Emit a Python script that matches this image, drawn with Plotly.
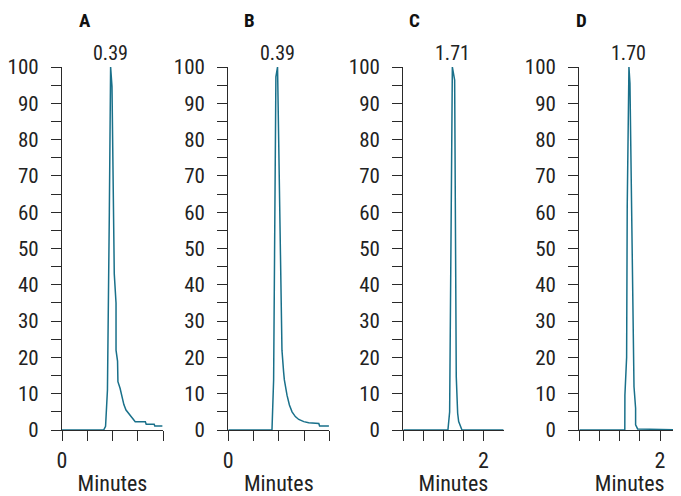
import plotly.graph_objects as go

# ---- data ----
panel_titles = ["A", "B", "C", "D"]
peak_labels = ["0.39", "0.39", "1.71", "1.70"]

a_time = [0.0, 0.33, 0.345, 0.36, 0.375, 0.385, 0.396, 0.405, 0.414, 0.428, 0.428, 0.44, 0.443,
          0.46, 0.475, 0.49, 0.507, 0.53, 0.555, 0.58, 0.66, 0.667, 0.73, 0.735, 0.795]
a_int = [0.0, 0.0, 1.0, 11.0, 60.0, 100.0, 94.6, 60.0, 43.0, 35.0, 22.0, 19.0, 13.3,
         11.5, 9.0, 7.0, 5.5, 4.4, 3.2, 2.3, 2.3, 1.6, 1.6, 1.1, 1.1]

b_time = [0.0, 0.346, 0.359, 0.367, 0.377, 0.39, 0.407, 0.412, 0.42, 0.425, 0.438, 0.444, 0.465,
          0.484, 0.505, 0.531, 0.558, 0.598, 0.637, 0.717, 0.723, 0.797]
b_int = [0.0, 0.0, 13.8, 60.0, 97.3, 100.0, 63.4, 40.4, 32.0, 22.0, 16.0, 13.8, 9.6,
         6.9, 5.0, 3.7, 2.9, 2.3, 2.0, 1.8, 1.1, 1.1]

c_time = [1.2, 1.645, 1.662, 1.672, 1.689, 1.712, 1.722, 1.728, 1.742, 1.752, 1.785, 2.2]
c_int = [0.0, 0.0, 5.0, 50.0, 100.0, 96.4, 54.0, 14.7, 4.6, 2.3, 0.0, 0.0]

d_time = [1.2, 1.651, 1.652, 1.669, 1.675, 1.692, 1.702, 1.729, 1.742, 1.758, 1.758, 1.778, 2.2]
d_int = [0.0, 0.0, 9.6, 20.0, 61.5, 100.0, 95.5, 45.0, 12.0, 6.0, 1.4, 0.3, 0.0]

x_ranges = [[0, 0.8], [0, 0.8], [1.2, 2.2], [1.2, 2.2]]
x_tickvals = [[0, 0.2, 0.4, 0.6, 0.8], [0, 0.2, 0.4, 0.6, 0.8],
              [1.2, 1.4, 1.6, 1.8, 2.0], [1.2, 1.4, 1.6, 1.8, 2.0]]
x_ticktext = [["0", "", "", "", ""], ["0", "", "", "", ""],
              ["", "", "", "", "2"], ["", "", "", "", "2"]]
y_tickvals = [0, 10, 20, 30, 40, 50, 60, 70, 80, 90, 100]
x_title = "Minutes"

series = [(a_time, a_int), (b_time, b_int), (c_time, c_int), (d_time, d_int)]

# ---- layout geometry (page pixels; the page body adds an 8px offset) ----
OFF = 8
W, H = 681 - OFF, 496 - OFF
x_dom_px = [(62, 163), (228.3, 329.3), (403.3, 503.6), (579.3, 680.2)]
y_top_px, y_bot_px = 67, 430
y_dom = [(H - (y_bot_px - OFF)) / H, (H - (y_top_px - OFF)) / H]
title_px = [85, 249, 414, 581]
title_py = 20

FONT = "Roboto Condensed, DejaVu Sans Condensed, sans-serif"
LINE_COL = "#19708a"
AX_COL = "#2a2a2a"
TXT_COL = "#222222"

fig = go.Figure()
layout = dict(
    width=W, height=H,
    margin=dict(l=0, r=0, t=0, b=0, autoexpand=False),
    paper_bgcolor="white", plot_bgcolor="white",
    showlegend=False,
    font=dict(family=FONT, color=TXT_COL, size=21),
)
annotations = []

for i, (t, v) in enumerate(series):
    n = i + 1
    xa = "x" if n == 1 else f"x{n}"
    ya = "y" if n == 1 else f"y{n}"
    fig.add_trace(go.Scatter(x=t, y=v, mode="lines", xaxis=xa, yaxis=ya,
                             line=dict(color=LINE_COL, width=1.5), hoverinfo="skip"))
    x0, x1 = x_dom_px[i]
    layout[f"xaxis{'' if n == 1 else n}"] = dict(
        domain=[(x0 - OFF) / W, min(1.0, (x1 - OFF) / W)], anchor=ya, range=x_ranges[i],
        automargin=False,
        showgrid=False, zeroline=False, showline=True, linecolor=AX_COL, linewidth=1.3,
        ticks="outside", ticklen=10, tickwidth=1.3, tickcolor=AX_COL,
        tickmode="array", tickvals=x_tickvals[i], ticktext=x_ticktext[i],
        tickfont=dict(size=22, family=FONT, color=TXT_COL),
        title=dict(text=x_title, font=dict(size=22, family=FONT, color=TXT_COL), standoff=11),
        layer="below traces", fixedrange=True,
    )
    layout[f"yaxis{'' if n == 1 else n}"] = dict(
        domain=list(y_dom), anchor=xa, range=[0, 100], automargin=False,
        showgrid=False, zeroline=False, showline=True, linecolor=AX_COL, linewidth=1.3,
        ticks="outside", ticklen=10, tickwidth=1.3, tickcolor=AX_COL,
        tickmode="array", tickvals=y_tickvals, ticklabelstandoff=8,
        tickfont=dict(size=21, family=FONT, color=TXT_COL),
        minor=dict(dtick=5, ticklen=10, tickwidth=1.3, tickcolor=AX_COL, ticks="outside"),
        layer="below traces", fixedrange=True,
    )
    # longer end ticks at 0 and 100
    m = n + 4
    layout[f"yaxis{m}"] = dict(
        overlaying=ya, anchor=xa, range=[0, 100], side="left", automargin=False,
        showgrid=False, zeroline=False, showline=False,
        ticks="outside", ticklen=15, tickwidth=1.3, tickcolor=AX_COL,
        tickmode="array", tickvals=[0, 100], showticklabels=False, fixedrange=True,
    )
    # peak retention time label
    pk = v.index(max(v))
    annotations.append(dict(x=t[pk], y=100, xref=xa, yref=ya, text=peak_labels[i],
                            showarrow=False, yanchor="bottom", yshift=0,
                            font=dict(size=20, family=FONT, color=TXT_COL)))
    # panel letter
    annotations.append(dict(x=(title_px[i] - OFF) / W, y=1 - (title_py - OFF) / H,
                            xref="paper", yref="paper",
                            text=f"<b>{panel_titles[i]}</b>", showarrow=False,
                            xanchor="center", yanchor="middle",
                            font=dict(size=19, family=FONT, color="#111111")))

layout["annotations"] = annotations
fig.update_layout(**layout)
fig.write_html("out.html")
